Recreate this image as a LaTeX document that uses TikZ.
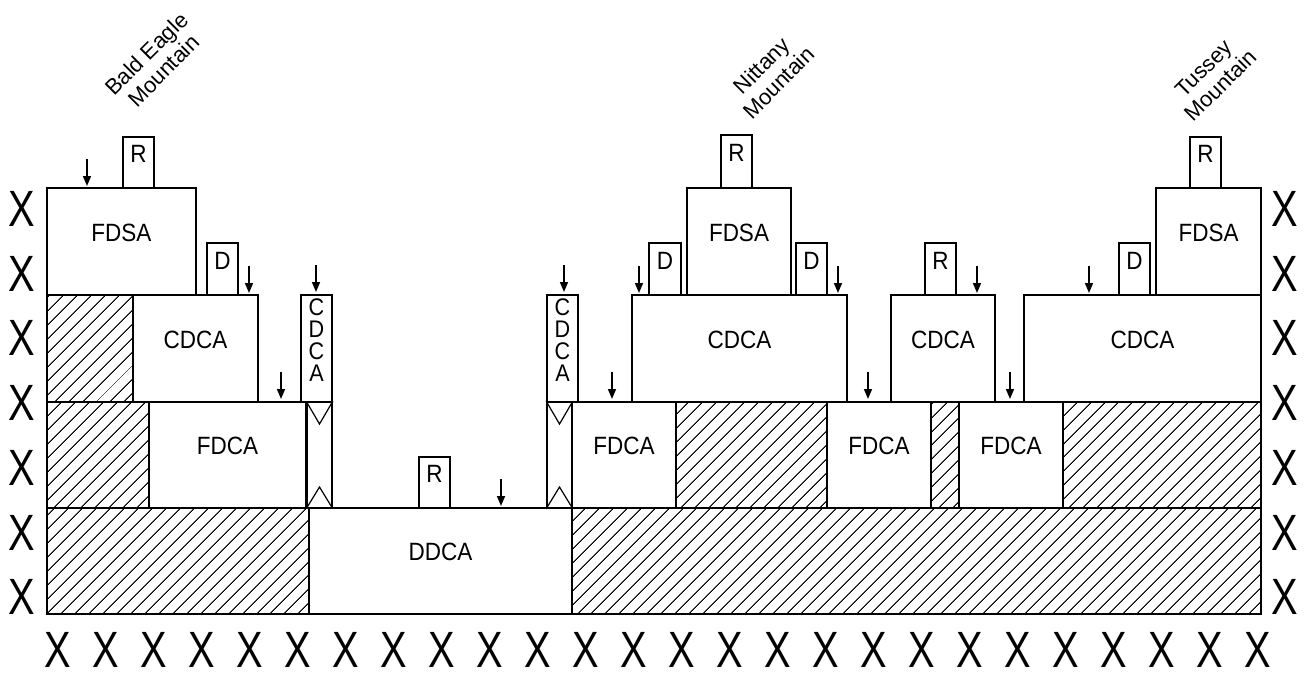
\documentclass[tikz,border=0pt]{standalone}
\usepackage{fontspec}
\setmainfont{Liberation Sans}
\newfontfamily\narrowfont{Liberation Sans}[FakeStretch=0.9]
\newfontfamily\xfont{Liberation Sans}[FakeStretch=0.78]
\usetikzlibrary{arrows.meta,patterns.meta,fit}

\tikzset{
  unitbox/.style={draw, line width=1.7pt, fill=white, inner sep=0pt,
                  font=\narrowfont\fontsize{25}{25}\selectfont},
  stackbox/.style={unitbox, align=center, font=\narrowfont\fontsize{24}{22}\selectfont},
  rock/.style={draw, line width=1.7pt,
               pattern={Lines[angle=45,distance=10.5pt,line width=1.2pt]}},
  sink/.style={-{Triangle[length=10pt,width=8pt]}, line width=1.6pt},
  bigx/.style={font=\xfont\fontsize{51}{51}\selectfont, inner sep=0pt},
  peak/.style={rotate=45, align=center, inner sep=0pt,
               font=\fontsize{22}{24}\selectfont}
}

\begin{document}
\begin{tikzpicture}[x=1pt, y=-1pt]
  \useasboundingbox (0,0) rectangle (1307,673);

  % hatched ground
  \draw[rock] (47,295) rectangle (133,402);
  \draw[rock] (47,402) rectangle (149,508);
  \draw[rock] (47,508) rectangle (309,614);
  \draw[rock] (572,508) rectangle (1261,614);
  \draw[rock] (676,402) rectangle (827,508);
  \draw[rock] (931,402) rectangle (959,508);
  \draw[rock] (1063,402) rectangle (1261,508);

  % bottom layer
  \node[unitbox, fit={(309,508) (572,614)}] (ddca) {DDCA};

  % FDCA layer
  \node[unitbox, fit={(149,402) (306,508)}] (fdcaA) {FDCA};
  \node[unitbox, fit={(572,402) (676,508)}] (fdcaB) {FDCA};
  \node[unitbox, fit={(827,402) (931,508)}] (fdcaC) {FDCA};
  \node[unitbox, fit={(959,402) (1063,508)}] (fdcaD) {FDCA};
  \node[draw, line width=1.7pt, fill=white, fit={(307,402) (332,508)}, inner sep=0pt] (colL) {};
  \node[draw, line width=1.7pt, fill=white, fit={(547,402) (572,508)}, inner sep=0pt] (colR) {};
  \draw[line width=1.2pt] (colL.north west) -- (319.5,424) -- (colL.north east);
  \draw[line width=1.2pt] (colL.south west) -- (319.5,487) -- (colL.south east);
  \draw[line width=1.2pt] (colR.north west) -- (559.5,424) -- (colR.north east);
  \draw[line width=1.2pt] (colR.south west) -- (559.5,487) -- (colR.south east);

  % CDCA layer
  \node[unitbox, fit={(133,295) (258,402)}] (cdcaA) {CDCA};
  \node[stackbox, fit={(301,295) (332,402)}] (cdcaL) {C\\D\\C\\A};
  \node[stackbox, fit={(547,295) (578,402)}] (cdcaR) {C\\D\\C\\A};
  \node[unitbox, fit={(632,295) (847,402)}] (cdcaB) {CDCA};
  \node[unitbox, fit={(891,295) (995,402)}] (cdcaC) {CDCA};
  \node[unitbox, fit={(1024,295) (1261,402)}] (cdcaD) {CDCA};

  % FDSA layer
  \node[unitbox, fit={(47,188) (196,295)}] (fdsaA) {FDSA};
  \node[unitbox, fit={(687,188) (791,295)}] (fdsaB) {FDSA};
  \node[unitbox, fit={(1156,188) (1261,295)}] (fdsaC) {FDSA};

  % small R and D boxes
  \node[unitbox, fit={(123,137) (154,188)}] (rA) {R};
  \node[unitbox, fit={(721,135) (752,188)}] (rB) {R};
  \node[unitbox, fit={(1190,137) (1221,188)}] (rC) {R};
  \node[unitbox, fit={(925,243) (956,295)}] (rD) {R};
  \node[unitbox, fit={(419,457) (450,508)}] (rE) {R};
  \node[unitbox, fit={(207,243) (238,295)}] (dA) {D};
  \node[unitbox, fit={(649,243) (681,295)}] (dB) {D};
  \node[unitbox, fit={(796,243) (827,295)}] (dC) {D};
  \node[unitbox, fit={(1119,243) (1150,295)}] (dD) {D};

  % arrows
  \foreach \x/\y in {87/186, 249/293, 316/292, 281/399, 501/506, 564/292,
                     612/399, 639/293, 838/293, 868/399, 977/293, 1010/399, 1089/293}
    \draw[sink] (\x,\y-27) -- (\x,\y);

  % mountain names
  \node[peak] (bald) at (155,62) {Bald Eagle\\Mountain};
  \node[peak] (nittany) at (770,74) {Nittany\\Mountain};
  \node[peak] (tussey) at (1212,77) {Tussey\\Mountain};

  % X marks
  \foreach \i in {0,...,6} {
    \node[bigx] (xl\i) at (22,209+64.7*\i) {X};
    \node[bigx] (xr\i) at (1285,209+64.7*\i) {X};
  }
  \foreach \i in {0,...,25}
    \node[bigx] (xb\i) at (58+48*\i,650) {X};
\end{tikzpicture}
\end{document}
